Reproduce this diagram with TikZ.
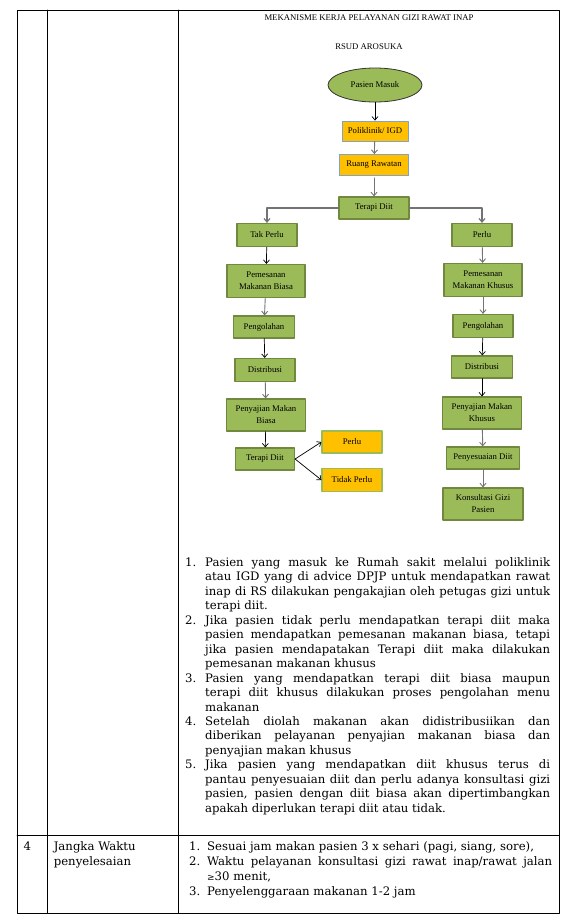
\documentclass[tikz,border=0pt]{standalone}
\usepackage{fontspec}
\setmainfont{DejaVu Serif}
\newfontfamily\fcserif{Liberation Serif}
\usetikzlibrary{arrows.meta, shapes.geometric}
\definecolor{olivefill}{RGB}{155,187,89}
\definecolor{olivedraw}{RGB}{113,137,63}
\definecolor{ambfill}{RGB}{255,192,0}
\definecolor{slatedraw}{RGB}{130,160,200}
\definecolor{conngray}{RGB}{115,115,115}

\newcommand\fcfont{\fcserif\fontsize{8.7}{12}\selectfont}
\newcommand\bkfont{\fontsize{11.7}{14.45}\selectfont}
\newcommand\bkfontb{\fontsize{11.7}{15}\selectfont}
\newcommand\jl[1]{\makebox[345pt][s]{#1}}

\begin{document}
\begin{tikzpicture}[
    x=1pt, y=-1pt,
    line cap=round,
    line join=round,
    grnbox/.style={draw=olivedraw, fill=olivefill, line width=1.2pt,
        align=center, font=\fcfont, inner sep=1pt},
    ambbox/.style={draw=slatedraw, fill=ambfill, line width=0.9pt,
        align=center, font=\fcfont, inner sep=1pt},
    ambgbox/.style={ambbox, draw=olivefill, line width=1.2pt},
    conn/.style={-{Straight Barb[length=3.5pt,width=6pt]}, line width=0.7pt, black},
    conng/.style={conn, conngray, line width=0.9pt},
    tblline/.style={line width=0.9pt, black},
]

\useasboundingbox (0,0) rectangle (568,916);

% ── Table grid ──────────────────────────────────────────────────────────────
\draw[tblline] (17,10) rectangle (559,913);
\draw[tblline] (47,10) -- (47,913);
\draw[tblline] (178,10) -- (178,913);
\draw[tblline] (17,835.6) -- (559,835.6);

% ── Heading ─────────────────────────────────────────────────────────────────
\node[font=\fcfont] (title) at (369,18) {MEKANISME KERJA PELAYANAN GIZI RAWAT INAP};
\node[font=\fcfont] (rsud) at (369,47) {RSUD AROSUKA};

% ── Upper chain ─────────────────────────────────────────────────────────────
\node[ellipse, draw=black!80, fill=olivefill, line width=0.8pt, font=\fcfont,
    minimum width=94pt, minimum height=34pt] (masuk) at (375,85) {Pasien Masuk};
\node[ambbox, minimum width=66pt, minimum height=20pt] (poli) at (375,131) {Poliklinik/ IGD};
\node[ambbox, minimum width=69pt, minimum height=21pt] (ruang) at (374,165) {Ruang Rawatan};
\node[grnbox, minimum width=70pt, minimum height=22pt] (terapi) at (374,208) {Terapi Diit};

\draw[conn] (masuk) -- (poli);
\draw[conng] (poli) -- (ruang);
\draw[conng, shorten <=2pt] (ruang) -- (terapi);

% ── Left branch (tak perlu) ────────────────────────────────────────────────
\node[grnbox, minimum width=60pt, minimum height=23pt] (takperlu) at (267,235) {Tak Perlu};
\node[grnbox, minimum width=78pt, minimum height=33pt] (pesanb) at (266,281) {Pemesanan\\Makanan Biasa};
\node[grnbox, minimum width=61pt, minimum height=22pt] (olahb) at (264,327) {Pengolahan};
\node[grnbox, minimum width=60pt, minimum height=23pt] (distb) at (265,370) {Distribusi};
\node[grnbox, minimum width=79pt, minimum height=32pt] (sajib) at (266,415) {Penyajian Makan\\Biasa};
\node[grnbox, minimum width=59pt, minimum height=22pt] (terapib) at (265,459) {Terapi Diit};
\node[ambgbox, minimum width=60pt, minimum height=22pt] (yaperlu) at (352,442) {Perlu};
\node[ambgbox, minimum width=60pt, minimum height=23pt] (tdkperlu) at (352,480) {Tidak Perlu};

\draw[conng, line width=1.2pt] (terapi.west) -| (takperlu.north);
\draw[conn] (takperlu) -- (pesanb);
\draw[conng] (pesanb) -- (olahb);
\draw[conn] (olahb) -- (distb);
\draw[conng] (distb) -- (sajib);
\draw[conn] (sajib) -- (terapib);
\draw[conn] (terapib.east) -- (yaperlu.west);
\draw[conn] (terapib.east) -- (tdkperlu.west);

% ── Right branch (perlu) ───────────────────────────────────────────────────
\node[grnbox, minimum width=60pt, minimum height=23pt] (perlu) at (482,235) {Perlu};
\node[grnbox, minimum width=78pt, minimum height=33pt] (pesank) at (483,280) {Pemesanan\\Makanan Khusus};
\node[grnbox, minimum width=60pt, minimum height=23pt] (olahk) at (483,326) {Pengolahan};
\node[grnbox, minimum width=61pt, minimum height=22pt] (distk) at (482,367) {Distribusi};
\node[grnbox, minimum width=79pt, minimum height=32pt] (sajik) at (482,413) {Penyajian Makan\\Khusus};
\node[grnbox, minimum width=73pt, minimum height=22pt] (sesuai) at (483,458) {Penyesuaian Diit};
\node[grnbox, minimum width=80pt, minimum height=32pt] (konsul) at (483,504) {Konsultasi Gizi\\Pasien};

\draw[conng, line width=1.2pt] (terapi.east) -| (perlu.north);
\draw[conng] (perlu) -- (pesank);
\draw[conng] (pesank) -- (olahk);
\draw[conn] (olahk) -- (distk);
\draw[conn] (distk) -- (sajik);
\draw[conng] (sajik) -- (sesuai);
\draw[conng] (sesuai) -- (konsul);

% ── Explanation list ───────────────────────────────────────────────────────
\node[anchor=base west, inner sep=0pt, font=\bkfont] (steps) at (185,566.5) {%
\begin{tabular}[t]{@{}p{20pt}@{}l@{}}
1. & \jl{Pasien yang masuk ke Rumah sakit melalui poliklinik}\\
   & \jl{atau IGD yang di advice DPJP untuk mendapatkan rawat}\\
   & \jl{inap di RS dilakukan pengakajian oleh petugas gizi untuk}\\
   & terapi diit.\\
2. & \jl{Jika pasien tidak perlu mendapatkan terapi diit maka}\\
   & \jl{pasien mendapatkan pemesanan makanan biasa, tetapi}\\
   & \jl{jika pasien mendapatakan Terapi diit maka dilakukan}\\
   & pemesanan makanan khusus\\
3. & \jl{Pasien yang mendapatkan terapi diit biasa maupun}\\
   & \jl{terapi diit khusus dilakukan proses pengolahan menu}\\
   & makanan\\
4. & \jl{Setelah diolah makanan akan didistribusiikan dan}\\
   & \jl{diberikan pelayanan penyajian makanan biasa dan}\\
   & penyajian makan khusus\\
5. & \jl{Jika pasien yang mendapatkan diit khusus terus di}\\
   & \jl{pantau penyesuaian diit dan perlu adanya konsultasi gizi}\\
   & \jl{pasien, pasien dengan diit biasa akan dipertimbangkan}\\
   & apakah diperlukan terapi diit atau tidak.
\end{tabular}};

% ── Row 4 ───────────────────────────────────────────────────────────────────
\node[anchor=base west, inner sep=0pt, font=\bkfontb] (nomor) at (23.5,850) {4};
\node[anchor=base west, inner sep=0pt, font=\bkfontb] (jangka) at (53.6,850) {%
\begin{tabular}[t]{@{}l@{}}
Jangka Waktu\\
penyelesaian
\end{tabular}};
\node[anchor=base west, inner sep=0pt, font=\bkfontb] (waktu) at (189,850) {%
\begin{tabular}[t]{@{}p{18pt}@{}l@{}}
1. & Sesuai jam makan pasien 3 x sehari (pagi, siang, sore),\\
2. & \jl{Waktu pelayanan konsultasi gizi rawat inap/rawat jalan}\\
   & {\small ≥}30 menit,\\
3. & Penyelenggaraan makanan 1-2 jam
\end{tabular}};

\end{tikzpicture}
\end{document}
